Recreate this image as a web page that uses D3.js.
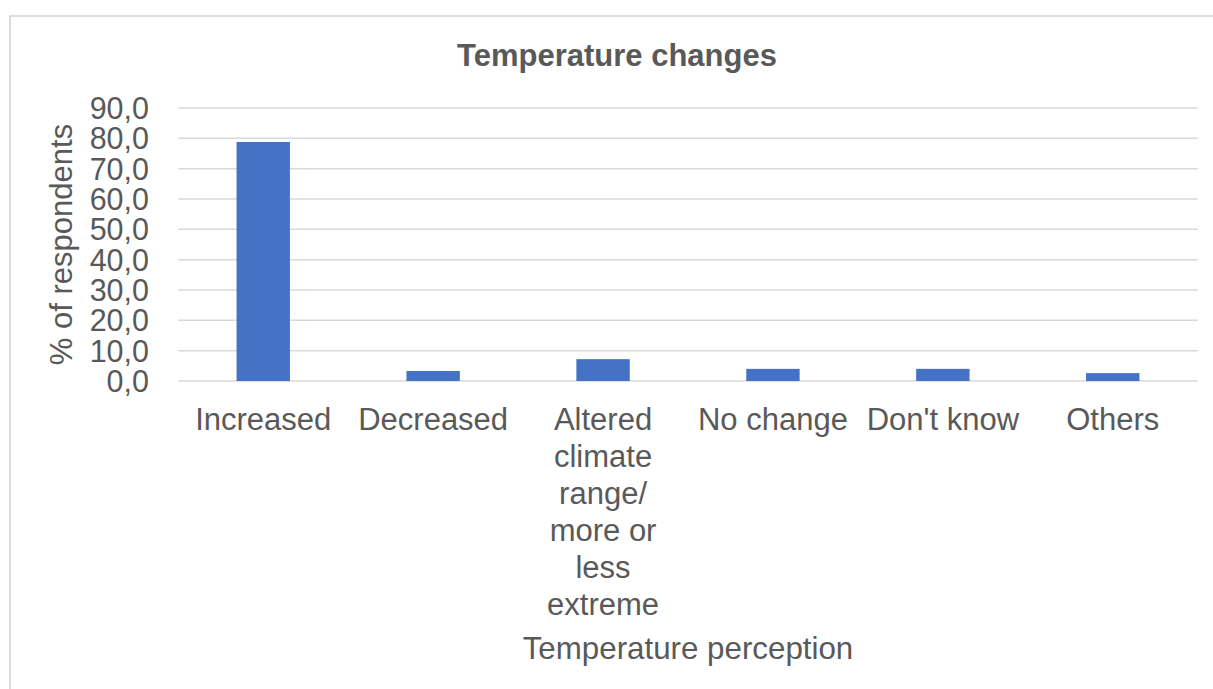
<!DOCTYPE html>
<html>
<head>
<meta charset="utf-8">
<script src="https://cdn.jsdelivr.net/npm/d3@7"></script>
<style>
  html, body { margin: 0; padding: 0; background: #fff; }
  svg { display: block; }
  text { font-family: "Liberation Sans", Arial, sans-serif; fill: #595959; }
</style>
</head>
<body>
<script>
// Survey answers: perceived temperature change
const categories = [
  ["Increased"],
  ["Decreased"],
  ["Altered", "climate", "range/", "more or", "less", "extreme"],
  ["No change"],
  ["Don't know"],
  ["Others"]
];
const percentages = [78.8, 3.3, 7.2, 4.0, 4.0, 2.6];
const yTicks = [0, 10, 20, 30, 40, 50, 60, 70, 80, 90];
const titleText = "Temperature changes";
const xTitle = "Temperature perception";
const yTitle = "% of respondents";

const W = 1213, H = 689;
const plot = { left: 178.3, right: 1197.7, top: 108, bottom: 381 };

const svg = d3.select("body").append("svg")
  .attr("width", W).attr("height", H);

// chart frame
svg.append("rect")
  .attr("x", 10).attr("y", 16)
  .attr("width", W + 20).attr("height", H + 20)
  .attr("fill", "#fff")
  .attr("stroke", "#d9d9d9").attr("stroke-width", 1.75);

const x = d3.scaleBand()
  .domain(d3.range(categories.length))
  .range([plot.left, plot.right])
  .padding(0);

const y = d3.scaleLinear()
  .domain([0, 90])
  .range([plot.bottom, plot.top]);

// horizontal gridlines
svg.append("g")
  .selectAll("line")
  .data(yTicks)
  .join("line")
  .attr("x1", plot.left).attr("x2", plot.right)
  .attr("y1", d => y(d)).attr("y2", d => y(d))
  .attr("stroke", "#d9d9d9").attr("stroke-width", 1.5);

// y tick labels
const fmt = d => d.toFixed(1).replace(".", ",");
svg.append("g")
  .selectAll("text")
  .data(yTicks)
  .join("text")
  .attr("x", 149)
  .attr("y", d => y(d))
  .attr("dy", "0.36em")
  .attr("text-anchor", "end")
  .attr("font-size", 30.5)
  .text(fmt);

// bars
const barW = x.bandwidth() * 0.314;
svg.append("g")
  .selectAll("rect")
  .data(percentages)
  .join("rect")
  .attr("x", (d, i) => x(i) + (x.bandwidth() - barW) / 2)
  .attr("y", d => y(d))
  .attr("width", barW)
  .attr("height", d => y(0) - y(d))
  .attr("fill", "#4472c4");

// category labels (multi-line)
const lbl = svg.append("g")
  .selectAll("text")
  .data(categories)
  .join("text")
  .attr("text-anchor", "middle")
  .attr("font-size", 31)
  .attr("x", (d, i) => x(i) + x.bandwidth() / 2)
  .attr("y", 430);
lbl.selectAll("tspan")
  .data((d, i) => d.map(s => ({ s, i })))
  .join("tspan")
  .attr("x", d => x(d.i) + x.bandwidth() / 2)
  .attr("dy", (d, k) => k === 0 ? 0 : 37)
  .text(d => d.s);

// titles
svg.append("text")
  .attr("x", 617).attr("y", 66)
  .attr("text-anchor", "middle")
  .attr("font-size", 31)
  .attr("font-weight", "bold")
  .text(titleText);

svg.append("text")
  .attr("x", (plot.left + plot.right) / 2).attr("y", 659)
  .attr("text-anchor", "middle")
  .attr("font-size", 31.3)
  .text(xTitle);

svg.append("text")
  .attr("transform", "translate(72," + ((plot.top + plot.bottom) / 2) + ") rotate(-90)")
  .attr("text-anchor", "middle")
  .attr("font-size", 31)
  .text(yTitle);
</script>
</body>
</html>
